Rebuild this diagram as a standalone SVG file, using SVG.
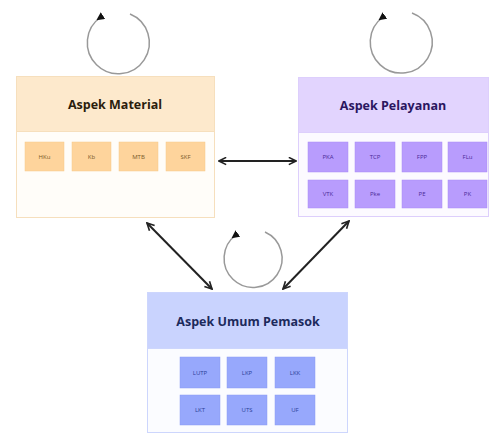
<svg xmlns="http://www.w3.org/2000/svg" width="490" height="436" viewBox="0 0 490 436">
<defs>
<style>
.title{font-family:"Open Sans","Liberation Sans",sans-serif;font-weight:bold;font-size:12.5px;text-anchor:middle;}
.lbl{font-family:"Open Sans","Liberation Sans",sans-serif;font-size:6px;text-anchor:middle;}
.conn{stroke:#222;stroke-width:2;fill:none;marker-start:url(#ah);marker-end:url(#ah);}
.loop{stroke:#999;stroke-width:1.5;fill:none;marker-start:url(#lh);}
.mat .sub{fill:#fed49c;stroke:#f6c98a;stroke-width:0.5;}
.mat .lbl{fill:#7a5a2a;}
.pel .sub{fill:#b89cfd;stroke:#a98af5;stroke-width:0.5;}
.pel .lbl{fill:#4b2a98;}
.umu .sub{fill:#97a8fc;stroke:#8a9bf2;stroke-width:0.5;}
.umu .lbl{fill:#2b3f98;}
</style>
<marker id="ah" viewBox="0 0 10 10" refX="9" refY="5" markerWidth="9" markerHeight="9" orient="auto-start-reverse" markerUnits="userSpaceOnUse">
<path d="M1,1 L9,5 L1,9" fill="none" stroke="#222" stroke-width="1.8"/>
</marker>
<marker id="lh" viewBox="0 0 10 10" refX="3" refY="5" markerWidth="8" markerHeight="8" orient="auto" markerUnits="userSpaceOnUse">
<path d="M0,0 L10,5 L0,10 z" fill="#111"/>
</marker>
</defs>
<rect width="490" height="436" fill="#fff"/>
<g id="connectors">
<line class="conn" x1="219" y1="161" x2="296" y2="161"/>
<line class="conn" x1="147" y1="223" x2="212" y2="289"/>
<line class="conn" x1="349" y1="221" x2="283" y2="289"/>
<path class="loop" d="M101,17 A31,31 0 1 0 130,14"/>
<path class="loop" d="M383,17 A31,31 0 1 0 412,13"/>
<path class="loop" d="M236,235 A29,29 0 1 0 265,232"/>
</g>
<g id="aspek-material" class="mat">
<rect x="16.5" y="76.5" width="198" height="141" fill="#fffdf9" stroke="#f6dfbd"/>
<rect x="16.5" y="76.5" width="198" height="55" fill="#fde9cc" stroke="#f6dfbd"/>
<text class="title" x="115" y="109" fill="#2a1d0c">Aspek Material</text>
<rect class="sub" x="25" y="142" width="39" height="29"/><text class="lbl" x="44.5" y="158.5">HKu</text>
<rect class="sub" x="72" y="142" width="39" height="29"/><text class="lbl" x="91.5" y="158.5">Kb</text>
<rect class="sub" x="119" y="142" width="39" height="29"/><text class="lbl" x="138.5" y="158.5">MTB</text>
<rect class="sub" x="166" y="142" width="39" height="29"/><text class="lbl" x="185.5" y="158.5">SKF</text>
</g>
<g id="aspek-pelayanan" class="pel">
<rect x="298.5" y="77.5" width="190" height="139" fill="#fcfaff" stroke="#ddcffc"/>
<rect x="298.5" y="77.5" width="190" height="55" fill="#e2d4fe" stroke="#ddcffc"/>
<text class="title" x="393" y="110" fill="#2a1660">Aspek Pelayanan</text>
<rect class="sub" x="308" y="142" width="40" height="30"/><text class="lbl" x="328" y="159">PKA</text>
<rect class="sub" x="355" y="142" width="40" height="30"/><text class="lbl" x="375" y="159">TCP</text>
<rect class="sub" x="402" y="142" width="40" height="30"/><text class="lbl" x="422" y="159">FPP</text>
<rect class="sub" x="448" y="142" width="39" height="30"/><text class="lbl" x="467.5" y="159">FLu</text>
<rect class="sub" x="308" y="180" width="40" height="28"/><text class="lbl" x="328" y="196">VTK</text>
<rect class="sub" x="355" y="180" width="40" height="28"/><text class="lbl" x="375" y="196">Pke</text>
<rect class="sub" x="402" y="180" width="40" height="28"/><text class="lbl" x="422" y="196">PE</text>
<rect class="sub" x="448" y="180" width="39" height="28"/><text class="lbl" x="467.5" y="196">PK</text>
</g>
<g id="aspek-umum-pemasok" class="umu">
<rect x="147.5" y="292.5" width="200" height="140" fill="#fbfcff" stroke="#cdd6fd"/>
<rect x="147.5" y="292.5" width="200" height="56" fill="#c9d3fe" stroke="#cdd6fd"/>
<text class="title" x="248" y="326" fill="#1c2a5c">Aspek Umum Pemasok</text>
<rect class="sub" x="180" y="357" width="40" height="31"/><text class="lbl" x="200" y="374.5">LUTP</text>
<rect class="sub" x="227" y="357" width="40" height="31"/><text class="lbl" x="247" y="374.5">LKP</text>
<rect class="sub" x="275" y="357" width="40" height="31"/><text class="lbl" x="295" y="374.5">LKK</text>
<rect class="sub" x="180" y="395" width="40" height="30"/><text class="lbl" x="200" y="412">LKT</text>
<rect class="sub" x="227" y="395" width="40" height="30"/><text class="lbl" x="247" y="412">UTS</text>
<rect class="sub" x="275" y="395" width="40" height="30"/><text class="lbl" x="295" y="412">UF</text>
</g>
</svg>
